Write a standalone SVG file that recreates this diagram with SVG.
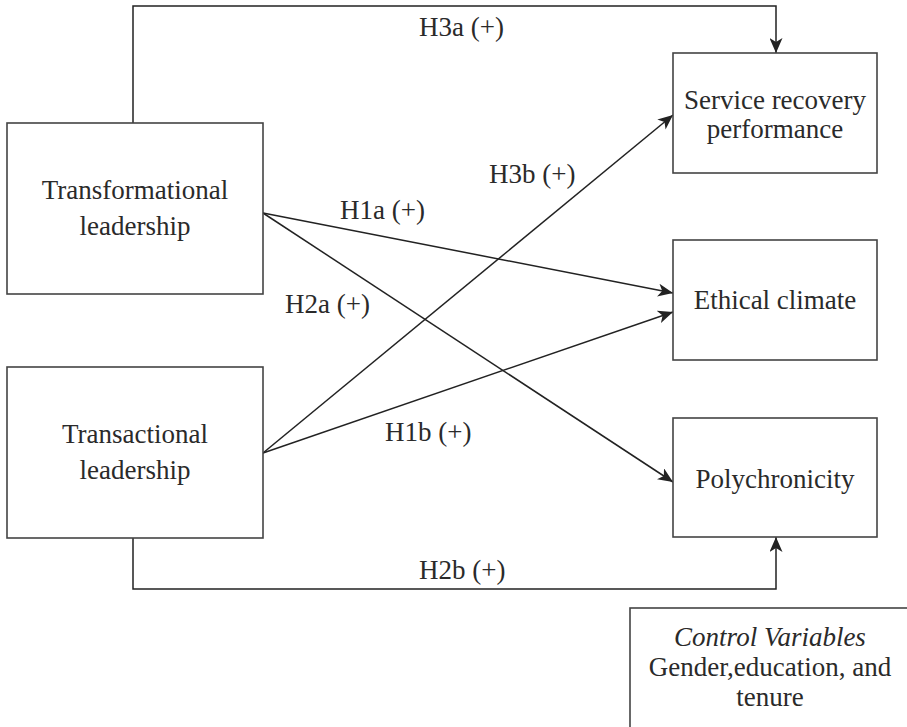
<svg xmlns="http://www.w3.org/2000/svg" width="907" height="727" viewBox="0 0 907 727">
<style>
.box{fill:#fff;stroke:#444;stroke-width:1.6}
.t{font-family:'Liberation Serif','DejaVu Serif',serif;font-size:27px;fill:#2a2a2a;text-anchor:middle}
.lbl{font-family:'Liberation Serif','DejaVu Serif',serif;font-size:27px;fill:#2a2a2a}
.c{fill:none;stroke:#222;stroke-width:1.5}
</style>
<defs>
<marker id="ah" markerUnits="userSpaceOnUse" markerWidth="17" markerHeight="13" refX="15" refY="6.5" orient="auto">
<path d="M0,0 L15,6.5 L0,13 L4,6.5 Z" fill="#222"/>
</marker>
</defs>
<g id="connectors">
<polyline class="c" points="133,123 133,6 776,6 776,53" marker-end="url(#ah)"/>
<polyline class="c" points="133,538 133,589 776,589 776,537" marker-end="url(#ah)"/>
<line class="c" x1="263" y1="213" x2="673" y2="293" marker-end="url(#ah)"/>
<line class="c" x1="263" y1="213" x2="673" y2="482" marker-end="url(#ah)"/>
<line class="c" x1="263" y1="453" x2="673" y2="115" marker-end="url(#ah)"/>
<line class="c" x1="263" y1="453" x2="673" y2="312" marker-end="url(#ah)"/>
<text class="lbl" x="419" y="36">H3a (+)</text>
<text class="lbl" x="489" y="183">H3b (+)</text>
<text class="lbl" x="340" y="219">H1a (+)</text>
<text class="lbl" x="285" y="313">H2a (+)</text>
<text class="lbl" x="385" y="441">H1b (+)</text>
<text class="lbl" x="419" y="579">H2b (+)</text>
</g>
<g id="transformational">
<rect class="box" x="7" y="123" width="256" height="171"/>
<text class="t" x="135" y="199">Transformational</text>
<text class="t" x="135" y="235">leadership</text>
</g>
<g id="transactional">
<rect class="box" x="7" y="367" width="256" height="171"/>
<text class="t" x="135" y="443">Transactional</text>
<text class="t" x="135" y="479">leadership</text>
</g>
<g id="srp">
<rect class="box" x="673" y="53" width="204" height="120"/>
<text class="t" x="775" y="109">Service recovery</text>
<text class="t" x="775" y="138">performance</text>
</g>
<g id="ethical">
<rect class="box" x="673" y="240" width="204" height="120"/>
<text class="t" x="775" y="309">Ethical climate</text>
</g>
<g id="poly">
<rect class="box" x="673" y="418" width="204" height="119"/>
<text class="t" x="775" y="488">Polychronicity</text>
</g>
<g id="controls">
<rect class="box" x="630" y="608" width="290" height="140"/>
<text class="t" x="770" y="646" font-style="italic">Control Variables</text>
<text class="t" x="770" y="676">Gender,education, and</text>
<text class="t" x="770" y="706">tenure</text>
</g>
</svg>
